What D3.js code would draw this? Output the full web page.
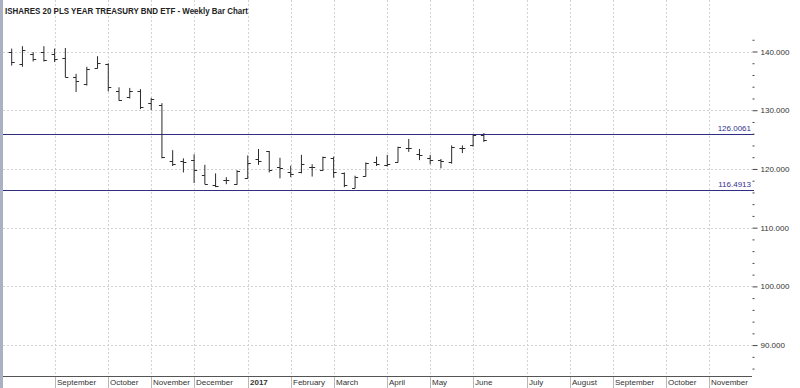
<!DOCTYPE html>
<html><head><meta charset="utf-8">
<script src="https://cdn.jsdelivr.net/npm/d3@7/dist/d3.min.js"></script>
<style>body{margin:0;background:#fff;}svg{display:block;}</style>
</head><body><svg id="c" width="800" height="388"></svg>
<script>
const title = "ISHARES 20 PLS YEAR TREASURY BND ETF - Weekly Bar Chart";
const weeks = ["2016-08-05","2016-08-12","2016-08-19","2016-08-26","2016-09-02","2016-09-09","2016-09-16","2016-09-23","2016-09-30",
"2016-10-07","2016-10-14","2016-10-21","2016-10-28","2016-11-04","2016-11-11","2016-11-18","2016-11-25",
"2016-12-02","2016-12-09","2016-12-16","2016-12-23","2016-12-30","2017-01-06","2017-01-13","2017-01-20","2017-01-27",
"2017-02-03","2017-02-10","2017-02-17","2017-02-24","2017-03-03","2017-03-10","2017-03-17","2017-03-24","2017-03-31",
"2017-04-07","2017-04-14","2017-04-21","2017-04-28","2017-05-05","2017-05-12","2017-05-19","2017-05-26","2017-06-02","2017-06-09"];
const open  = [139.9,137.8,139.6,139.9,139.6,138.9,135.7,134.5,137.2,137.9,133.2,132.3,133.3,131.2,130.9,121.4,121.3,121.5,119.0,117.3,118.1,117.4,118.5,121.7,123.0,120.4,119.4,119.5,120.4,119.8,121.9,119.25,116.8,118.8,121.2,120.6,121.2,123.5,122.5,121.9,121.5,121.1,123.6,124.1,125.8];
const high  = [140.5,140.9,139.9,140.9,140.5,140.6,136.2,137.4,139.2,138.0,133.9,133.8,133.6,132.1,131.2,123.2,121.8,122.5,120.7,119.25,118.6,119.8,122.3,123.4,123.05,121.9,120.55,122.4,120.8,122.1,122.1,119.4,118.85,121.1,122.1,122.4,123.8,125.1,123.4,122.4,121.7,124.0,124.0,125.8,126.1];
const low   = [137.6,137.4,138.3,138.3,138.2,135.6,133.1,134.2,137.1,133.2,131.6,132.0,130.2,130.0,121.8,120.5,119.4,117.6,117.4,116.9,117.4,117.3,118.3,120.7,119.4,118.4,118.6,119.25,118.7,119.65,118.5,116.9,116.7,118.7,120.5,120.4,121.1,122.9,121.5,120.8,120.1,120.9,122.7,123.8,124.6];
const close = [138.2,140.2,138.8,138.5,138.8,135.6,134.9,137.0,138.0,134.0,131.8,133.3,130.6,131.9,122.1,120.8,121.1,119.8,117.5,117.1,118.1,119.6,121.0,121.4,119.9,120.1,119.1,120.8,120.3,122.1,119.4,117.3,118.7,121.0,120.8,120.8,123.7,123.6,122.4,121.5,121.3,123.8,123.5,125.7,124.9];
const monthDates = ["2016-09-02","2016-10-07","2016-11-04","2016-12-02","2017-01-06","2017-02-03","2017-03-03","2017-04-07","2017-05-05","2017-06-02","2017-07-07","2017-08-04","2017-09-01","2017-10-06","2017-11-03"];
const monthNames = ["September","October","November","December","2017","February","March","April","May","June","July","August","September","October","November"];
const yMajor = [140,130,120,110,100,90];
const yMinor = [142,138,136,134,132,128,126,124,122,118,116,114,112,108,106,104,102,98,96,94,92,88,86];
const levels = [126.0061, 116.4913];
const levelLabels = ["126.0061","116.4913"];

const parse = d3.timeParse("%Y-%m-%d");
const svg = d3.select("#c");
const W = 800, H = 388, left = 3, right = 752, bottom = 376;

const x = d3.scaleTime().domain([parse("2016-08-05"), parse("2017-11-03")]).range([11.7, 709.2]);
const y = d3.scaleLinear().domain([90, 140]).range([345.1, 51.5]);

svg.append("rect").attr("x",0).attr("y",0).attr("width",W).attr("height",H).attr("fill","#fff");
svg.append("rect").attr("x",0).attr("y",0).attr("width",3).attr("height",H).attr("fill","#a9b1c2");

// horizontal gridlines
svg.append("g").selectAll("line").data(yMajor).join("line")
  .attr("x1",left).attr("x2",right)
  .attr("y1",d=>Math.round(y(d))+0.5).attr("y2",d=>Math.round(y(d))+0.5)
  .attr("stroke","#d2d2d2").attr("stroke-dasharray","2,2");

// vertical gridlines
const md = monthDates.map(parse);
svg.append("g").selectAll("line").data(md).join("line")
  .attr("x1",d=>Math.round(x(d))+0.5).attr("x2",d=>Math.round(x(d))+0.5)
  .attr("y1",0).attr("y2",bottom)
  .attr("stroke","#d2d2d2").attr("stroke-dasharray","2,2");

// level lines
svg.append("g").selectAll("line").data(levels).join("line")
  .attr("x1",left).attr("x2",right+2)
  .attr("y1",d=>Math.round(y(d))+0.5).attr("y2",d=>Math.round(y(d))+0.5)
  .attr("stroke","#2e2e82").attr("stroke-width",1);
svg.append("g").selectAll("text").data(levels).join("text")
  .attr("x",751).attr("y",d=>Math.round(y(d))-3)
  .attr("text-anchor","end").attr("font-family","Liberation Sans, Arial, sans-serif")
  .attr("font-size","8px").attr("fill","#33338a")
  .text((d,i)=>levelLabels[i]);

// bars
const bars = svg.append("g").attr("stroke","#2a2a2a").attr("stroke-width",1).attr("fill","none");
weeks.forEach((w,i)=>{
  const cx = x(parse(w));
  bars.append("line").attr("x1",cx).attr("x2",cx).attr("y1",y(high[i])).attr("y2",y(low[i]));
  bars.append("line").attr("x1",cx-3).attr("x2",cx).attr("y1",Math.round(y(open[i]))+0.5).attr("y2",Math.round(y(open[i]))+0.5);
  bars.append("line").attr("x1",cx).attr("x2",cx+3).attr("y1",Math.round(y(close[i]))+0.5).attr("y2",Math.round(y(close[i]))+0.5);
});

// y axis (right)
const ax = svg.append("g").attr("transform",`translate(${right+0.5},0)`);
ax.call(d3.axisRight(y).tickValues(yMinor).tickSize(2).tickFormat(""));
const ax2 = svg.append("g").attr("transform",`translate(${right+0.5},0)`);
ax2.call(d3.axisRight(y).tickValues(yMajor).tickSize(5).tickPadding(3).tickFormat(d3.format(".3f")));
[ax,ax2].forEach(g=>{
  g.select(".domain").remove();
  g.selectAll("line").attr("stroke","#444");
  g.selectAll("text").attr("font-family","Liberation Sans, Arial, sans-serif").attr("font-size","8px").attr("fill","#333");
});

// bottom axis
svg.append("line").attr("x1",left).attr("x2",right).attr("y1",bottom+0.5).attr("y2",bottom+0.5).attr("stroke","#555");
svg.append("g").selectAll("line").data(md).join("line")
  .attr("x1",d=>Math.round(x(d))+0.5).attr("x2",d=>Math.round(x(d))+0.5)
  .attr("y1",bottom+1).attr("y2",H).attr("stroke","#b8b8b8");
svg.append("g").selectAll("text").data(md).join("text")
  .attr("x",d=>Math.round(x(d))+2).attr("y",385)
  .attr("font-family","Liberation Sans, Arial, sans-serif").attr("font-size","8px").attr("fill","#333")
  .attr("font-weight",(d,i)=>monthNames[i]==="2017"?"bold":"normal")
  .text((d,i)=>monthNames[i]);

// title
svg.append("text").attr("x",5).attr("y",14)
  .attr("font-family","Liberation Sans, Arial, sans-serif").attr("font-size","9px").attr("font-weight","bold")
  .attr("fill","#222").attr("textLength",243).attr("lengthAdjust","spacingAndGlyphs").text(title);
</script></body></html>
